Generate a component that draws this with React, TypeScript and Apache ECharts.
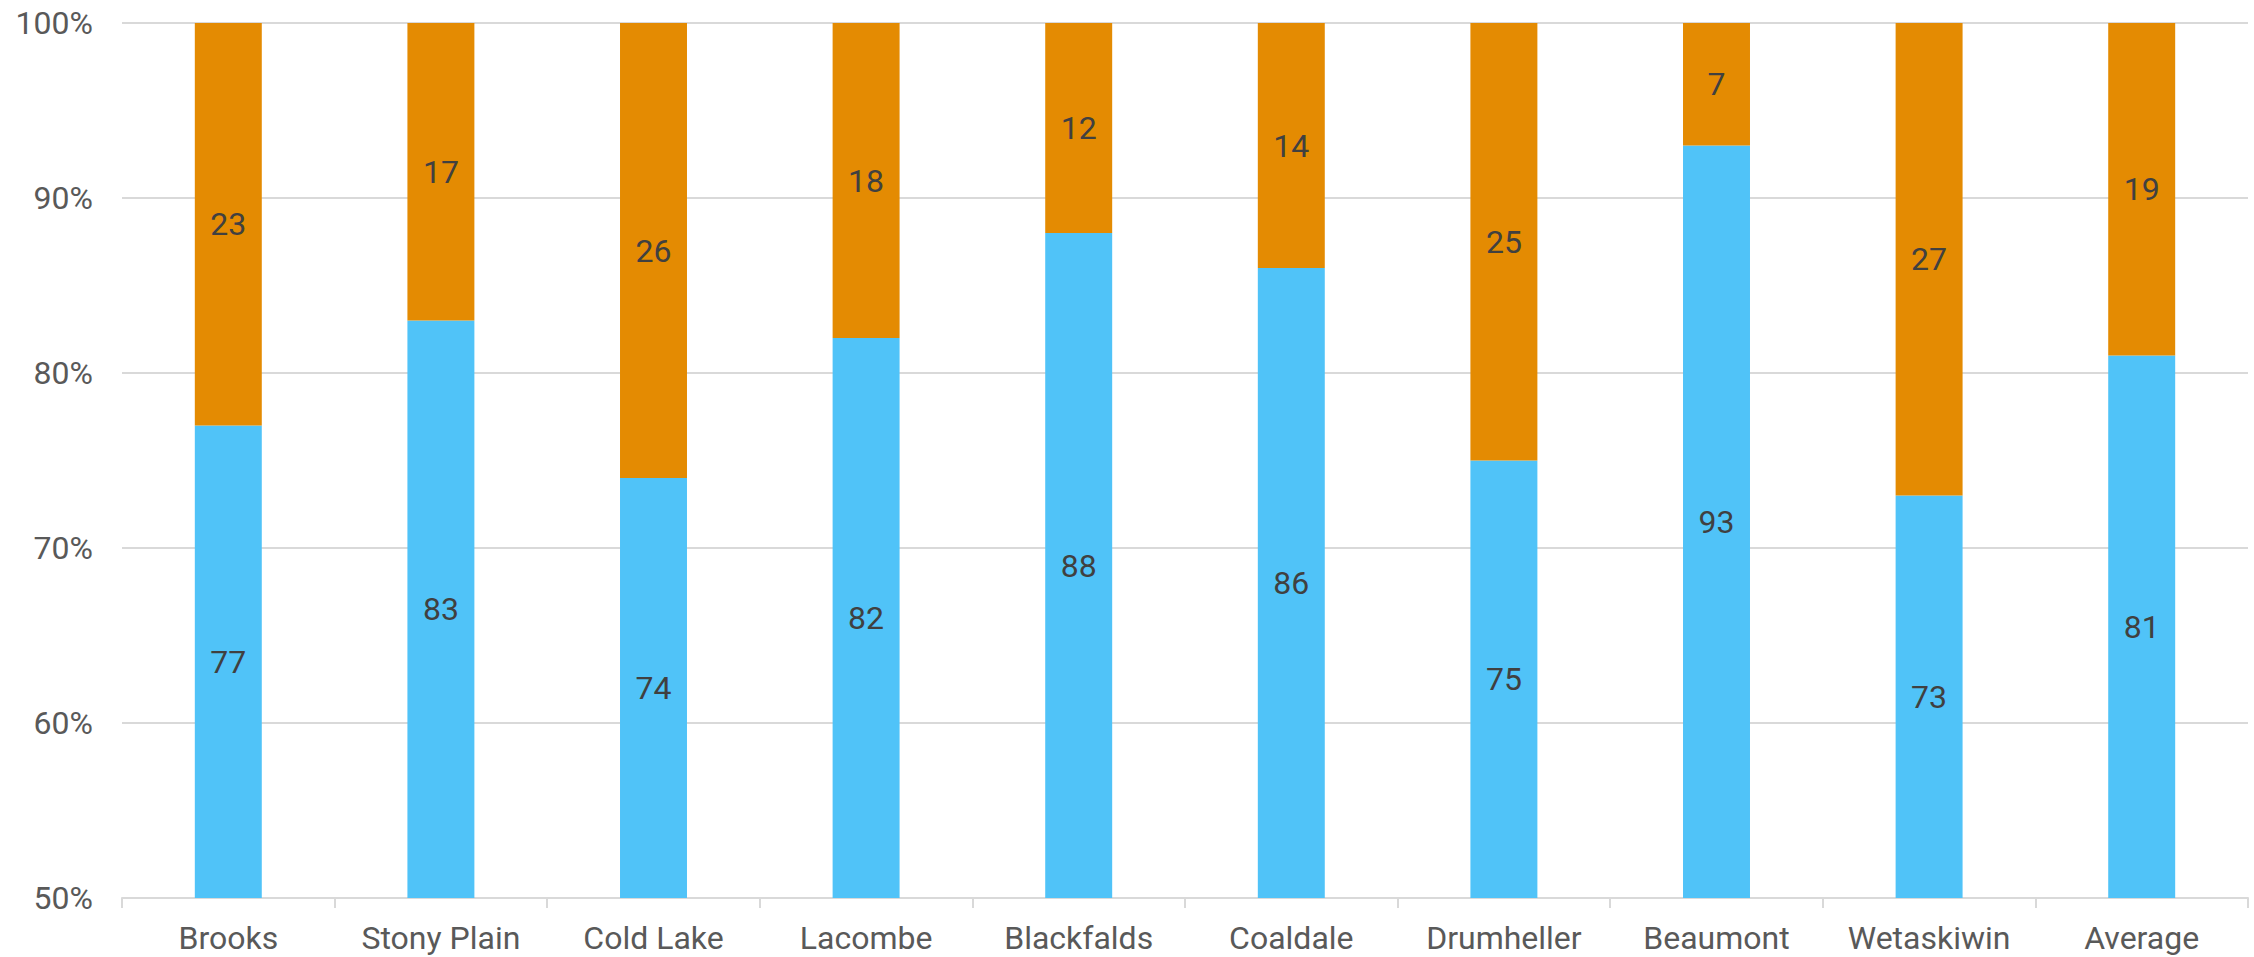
import React, { useEffect, useRef } from "react";
import * as echarts from "echarts";

const categories = [
  "Brooks",
  "Stony Plain",
  "Cold Lake",
  "Lacombe",
  "Blackfalds",
  "Coaldale",
  "Drumheller",
  "Beaumont",
  "Wetaskiwin",
  "Average",
];
const lowerValues = [77, 83, 74, 82, 88, 86, 75, 93, 73, 81];
const upperValues = [23, 17, 26, 18, 12, 14, 25, 7, 27, 19];

const yMin = 50;
const yMax = 100;
const yStep = 10;

export default function App() {
  const ref = useRef<HTMLDivElement>(null);

  useEffect(() => {
    if (!ref.current) return;
    const chart = echarts.init(ref.current, undefined, { renderer: "svg" });
    const font = "Roboto, 'Noto Sans', sans-serif";
    const label = {
      show: true,
      position: "inside" as const,
      color: "#404040",
      fontSize: 32,
      fontFamily: font,
    };
    chart.setOption({
      animation: false,
      backgroundColor: "#ffffff",
      grid: { left: 122, right: 6, top: 23, bottom: 59, containLabel: false },
      xAxis: {
        type: "category",
        data: categories,
        boundaryGap: true,
        axisLine: { show: true, lineStyle: { color: "#d9d9d9", width: 2 } },
        axisTick: { show: true, length: 10, lineStyle: { color: "#d9d9d9", width: 2 } },
        axisLabel: { color: "#595959", fontSize: 32, fontFamily: font, margin: 24 },
      },
      yAxis: {
        type: "value",
        min: yMin,
        max: yMax,
        interval: yStep,
        axisLine: { show: false },
        axisTick: { show: false },
        axisLabel: {
          color: "#595959",
          fontSize: 32,
          fontFamily: font,
          margin: 29,
          formatter: "{value}%",
        },
        splitLine: { lineStyle: { color: "#d9d9d9", width: 2 } },
      },
      series: [
        {
          type: "bar",
          stack: "total",
          data: lowerValues,
          barWidth: "31.5%",
          itemStyle: { color: "#50c3f8" },
          label,
        },
        {
          type: "bar",
          stack: "total",
          data: upperValues,
          barWidth: "31.5%",
          itemStyle: { color: "#e48b02" },
          label,
        },
      ],
    });
    return () => chart.dispose();
  }, []);

  return (
    <div
      ref={ref}
      style={{ position: "fixed", left: 0, top: 0, width: 2254, height: 957 }}
    />
  );
}
